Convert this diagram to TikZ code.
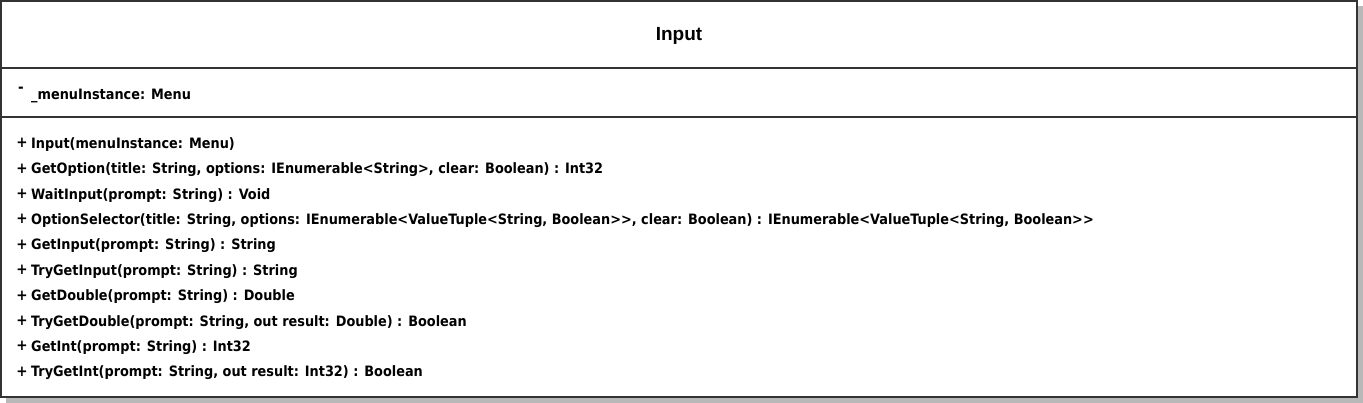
\documentclass[tikz,border=0pt]{standalone}
\usepackage{fontspec}
\newfontfamily\memberfont{DejaVu Sans Condensed}
\newfontfamily\titlefont{Liberation Sans}
\usetikzlibrary{positioning}

\begin{document}
\begin{tikzpicture}[x=1pt,y=-1pt,
  frame/.style={draw=black!80,line width=1.5pt},
  shade/.style={fill=black!28,draw=none},
  member/.style={anchor=west,inner sep=0pt,font=\memberfont\bfseries\fontsize{14.3}{17}\selectfont},
  vis/.style={inner sep=0pt,font=\memberfont\bfseries\fontsize{15}{17}\selectfont},
  title/.style={font=\titlefont\bfseries\fontsize{19}{22}\selectfont}
]
\useasboundingbox (0,0) rectangle (1363,403);

% shadow and class frame
\fill[shade] (6,6) rectangle (1363,403);
\draw[frame,fill=white] (1,1) rectangle (1357,397);
\draw[frame] (1,68) -- (1357,68);
\draw[frame] (1,117) -- (1357,117);

\node[title] (name) at (679,36) {Input};

% attributes
\node[vis] (vattr) at (21,90) {-};
\node[member] (attr) at (31,96) {\_menuInstance: Menu};

% operations
\foreach \op [count=\i] in {
  {Input(menuInstance: Menu)},
  {GetOption(title: String, options: IEnumerable<String>, clear: Boolean) : Int32},
  {WaitInput(prompt: String) : Void},
  {OptionSelector(title: String, options: IEnumerable<ValueTuple<String, Boolean>>, clear: Boolean) : IEnumerable<ValueTuple<String, Boolean>>},
  {GetInput(prompt: String) : String},
  {TryGetInput(prompt: String) : String},
  {GetDouble(prompt: String) : Double},
  {TryGetDouble(prompt: String, out result: Double) : Boolean},
  {GetInt(prompt: String) : Int32},
  {TryGetInt(prompt: String, out result: Int32) : Boolean}}
{
  \node[vis] (vop\i) at (22,{117.5+25.4*\i}) {+};
  \node[member] (op\i) at (31,{119+25.4*\i}) {\op};
}
\end{tikzpicture}
\end{document}
